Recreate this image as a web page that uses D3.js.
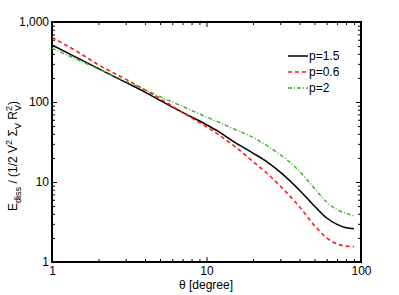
<!DOCTYPE html>
<html>
<head>
<meta charset="utf-8">
<script src="https://cdn.jsdelivr.net/npm/d3@7"></script>
<style>
  body { margin:0; background:#fff; }
  text { font-family: "Liberation Sans", Arial, sans-serif; }
</style>
</head>
<body>
<div id="chart"></div>
<script>
// theta sample points [degree]
var theta = [1, 1.5, 2, 3, 4, 5, 7, 10, 12, 15, 20, 25, 30, 40, 50, 60, 70, 80, 90];
// E_diss / (1/2 V^2 Sigma_V R_V^2)
var p15 = [516, 346, 261, 176, 133, 105, 74, 52, 42.5, 32, 23, 17.5, 13.3, 7.9, 5.0, 3.55, 2.95, 2.68, 2.6];
var p06 = [643, 412, 291, 193, 141, 110, 74, 49, 39, 28.5, 18, 12.5, 8.9, 4.9, 2.85, 2.0, 1.68, 1.58, 1.55];
var p2  = [469, 331, 258, 182, 143, 117, 88, 65, 56, 46, 36, 28, 22, 13.6, 8.3, 5.6, 4.5, 4.05, 3.78];
var seriesNames = ["p=1.5", "p=0.6", "p=2"];
var xMajor = [1, 10, 100];
var yMajor = [1, 10, 100, 1000];

var W = 399, H = 295;
var m = {left: 52, right: 38, top: 22, bottom: 33};

var svg = d3.select("#chart").append("svg")
  .attr("width", W).attr("height", H);

var x = d3.scaleLog().domain([1, 100]).range([m.left, W - m.right]);
var y = d3.scaleLog().domain([1, 1000]).range([H - m.bottom, m.top]);

// minor ticks 2..9 of every decade
function minors(lo, hi) {
  var out = [];
  for (var d = lo; d < hi; d *= 10)
    for (var k = 2; k < 10; k++) out.push(d * k);
  return out;
}
var xMinor = minors(1, 100), yMinor = minors(1, 1000);

var fmt = d3.format(",");

function addAxis(gen, tr, vals, len, pad) {
  var g = svg.append("g").attr("transform", tr)
    .call(gen.tickValues(vals).tickSizeInner(-len).tickSizeOuter(0)
      .tickPadding(pad || 0)
      .tickFormat(pad ? fmt : ""));
  g.select(".domain").remove();
  g.selectAll(".tick line").attr("stroke", "#000").attr("stroke-width", 1);
  g.selectAll("text").attr("font-size", 12).attr("fill", "#000");
  return g;
}
var bot = "translate(0," + (H - m.bottom) + ")", topT = "translate(0," + m.top + ")";
var lef = "translate(" + m.left + ",0)", rig = "translate(" + (W - m.right) + ",0)";
addAxis(d3.axisBottom(x), bot, xMajor, 5, 4);
addAxis(d3.axisBottom(x), bot, xMinor, 3);
addAxis(d3.axisTop(x), topT, xMajor, 5);
addAxis(d3.axisTop(x), topT, xMinor, 3);
addAxis(d3.axisLeft(y), lef, yMajor, 5, 3);
addAxis(d3.axisLeft(y), lef, yMinor, 3);
addAxis(d3.axisRight(y), rig, yMajor, 5);
addAxis(d3.axisRight(y), rig, yMinor, 3);

// frame
svg.append("rect")
  .attr("x", m.left).attr("y", m.top)
  .attr("width", W - m.left - m.right).attr("height", H - m.top - m.bottom)
  .attr("fill", "none").attr("stroke", "#000").attr("stroke-width", 2);

var styles = [
  {color: "#000000", dash: null, w: 1.5},
  {color: "#ff1a1a", dash: "4,3", w: 1.6},
  {color: "#3cb02a", dash: "4,2,1,2", w: 1.4}
];
var data = [p15, p06, p2];

var line = d3.line()
  .x(function(d, i) { return x(theta[i]); })
  .y(function(d) { return y(d); })
  .curve(d3.curveMonotoneX);

data.forEach(function(s, i) {
  svg.append("path").datum(s)
    .attr("d", line)
    .attr("fill", "none")
    .attr("stroke", styles[i].color)
    .attr("stroke-width", styles[i].w)
    .attr("stroke-dasharray", styles[i].dash);
});

// legend
var lg = svg.append("g").attr("transform", "translate(288,56)");
seriesNames.forEach(function(n, i) {
  lg.append("line")
    .attr("x1", 0).attr("x2", 20).attr("y1", i * 16).attr("y2", i * 16)
    .attr("stroke", styles[i].color).attr("stroke-width", styles[i].w)
    .attr("stroke-dasharray", styles[i].dash);
  lg.append("text").attr("x", 21).attr("y", i * 16 + 4)
    .attr("font-size", 12).text(n);
});

// axis titles
svg.append("text")
  .attr("x", 206).attr("y", 288.5)
  .attr("text-anchor", "middle").attr("font-size", 12)
  .text("\u03b8 [degree]");

var yt = svg.append("text")
  .attr("transform", "translate(17,156) rotate(-90)")
  .attr("text-anchor", "middle").attr("font-size", 12);
yt.append("tspan").text("E");
yt.append("tspan").attr("font-size", 9).attr("dy", 4).text("diss");
yt.append("tspan").attr("dy", -4).text(" / (1/2 V");
yt.append("tspan").attr("font-size", 9).attr("dy", -5).text("2");
yt.append("tspan").attr("dy", 5).text(" \u03a3");
yt.append("tspan").attr("font-size", 9).attr("dy", 4).text("V");
yt.append("tspan").attr("dy", -4).text(" R");
yt.append("tspan").attr("font-size", 9).attr("dy", -5).text("2");
yt.append("tspan").attr("font-size", 9).attr("dx", -5).attr("dy", 9).text("V");
yt.append("tspan").attr("dy", -4).text(")");
</script>
</body>
</html>
